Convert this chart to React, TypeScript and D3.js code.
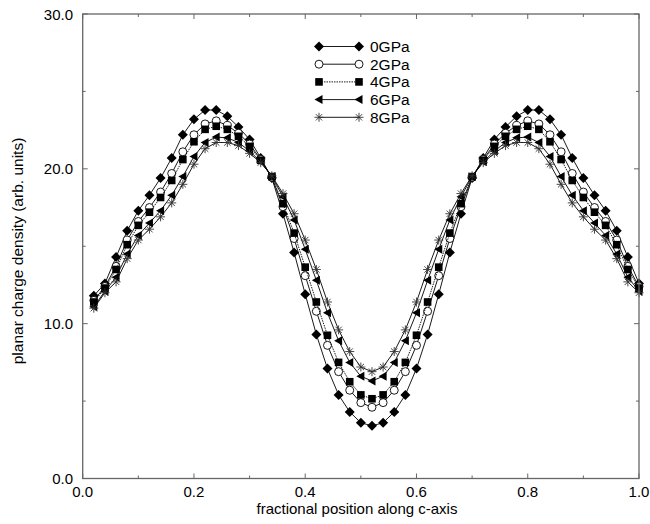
import React from 'react';
import * as d3 from 'd3';

// fractional positions along c-axis
const positions = [
  0.02, 0.04, 0.06, 0.08, 0.1, 0.12, 0.14, 0.16, 0.18, 0.2,
  0.22, 0.24, 0.26, 0.28, 0.3, 0.32, 0.34, 0.36, 0.38, 0.4,
  0.42, 0.44, 0.46, 0.48, 0.5, 0.52, 0.54, 0.56, 0.58, 0.6,
  0.62, 0.64, 0.66, 0.68, 0.7, 0.72, 0.74, 0.76, 0.78, 0.8,
  0.82, 0.84, 0.86, 0.88, 0.9, 0.92, 0.94, 0.96, 0.98, 1.0,
];

const gpa0 = [
  11.8, 12.6, 14.3, 16.0, 17.3, 18.3, 19.4, 20.7, 22.2, 23.2,
  23.8, 23.8, 23.4, 22.7, 21.9, 20.7, 19.4, 17.1, 14.6, 11.9,
  9.3, 7.1, 5.4, 4.3, 3.6, 3.4, 3.6, 4.3, 5.4, 7.1,
  9.3, 11.9, 14.6, 17.1, 19.4, 20.7, 21.9, 22.7, 23.4, 23.8,
  23.8, 23.2, 22.2, 20.7, 19.4, 18.3, 17.3, 16.0, 14.3, 12.6,
];
const gpa2 = [
  11.5, 12.4, 13.7, 15.4, 16.6, 17.5, 18.5, 19.7, 21.1, 22.2,
  22.9, 23.1, 22.8, 22.3, 21.6, 20.6, 19.45, 17.55, 15.5, 13.1,
  10.8, 8.6, 6.9, 5.7, 4.9, 4.6, 4.9, 5.7, 6.9, 8.6,
  10.8, 13.1, 15.5, 17.55, 19.45, 20.6, 21.6, 22.3, 22.8, 23.1,
  22.9, 22.2, 21.1, 19.7, 18.5, 17.5, 16.6, 15.4, 13.7, 12.4,
];
const gpa4 = [
  11.4, 12.3, 13.5, 15.1, 16.35, 17.2, 18.15, 19.25, 20.6, 21.75,
  22.55, 22.75, 22.55, 22.1, 21.45, 20.55, 19.5, 17.75, 15.85, 13.65,
  11.4, 9.25, 7.5, 6.25, 5.4, 5.15, 5.4, 6.25, 7.5, 9.25,
  11.4, 13.65, 15.85, 17.75, 19.5, 20.55, 21.45, 22.1, 22.55, 22.75,
  22.55, 21.75, 20.6, 19.25, 18.15, 17.2, 16.35, 15.1, 13.5, 12.3,
];
const gpa6 = [
  11.1, 12.1, 13.0, 14.5, 15.7, 16.5, 17.3, 18.3, 19.5, 20.8,
  21.7, 22.05, 22.0, 21.7, 21.15, 20.45, 19.5, 18.2, 16.7, 14.8,
  12.8, 10.7, 8.9, 7.5, 6.6, 6.3, 6.6, 7.5, 8.9, 10.7,
  12.8, 14.8, 16.7, 18.2, 19.5, 20.45, 21.15, 21.7, 22.0, 22.05,
  21.7, 20.8, 19.5, 18.3, 17.3, 16.5, 15.7, 14.5, 13.0, 12.1,
];
const gpa8 = [
  11.0, 12.0, 12.7, 14.2, 15.4, 16.1, 16.9, 17.8, 19.0, 20.3,
  21.3, 21.7, 21.7, 21.5, 21.0, 20.4, 19.55, 18.4, 17.1, 15.4,
  13.5, 11.4, 9.6, 8.2, 7.2, 6.9, 7.2, 8.2, 9.6, 11.4,
  13.5, 15.4, 17.1, 18.4, 19.55, 20.4, 21.0, 21.5, 21.7, 21.7,
  21.3, 20.3, 19.0, 17.8, 16.9, 16.1, 15.4, 14.2, 12.7, 12.0,
];

const seriesNames = ['0GPa', '2GPa', '4GPa', '6GPa', '8GPa'];
const seriesValues = [gpa0, gpa2, gpa4, gpa6, gpa8];
const markerKinds = ['diamond', 'circle', 'square', 'triangle', 'star'];

const xTicks = [0, 0.2, 0.4, 0.6, 0.8, 1.0];
const xMinor = [0.1, 0.3, 0.5, 0.7, 0.9];
const yTicks = [0, 10, 20, 30];
const yMinor = [5, 15, 25];

const W = 650;
const H = 524;
const left = 82.7;
const right = 639;
const top = 14;
const bottom = 478.5;
const font = 'Liberation Sans, Arial, Helvetica, sans-serif';
const axisColor = '#666';

const Marker = ({ kind, x, y }: { kind: string; x: number; y: number }) => {
  if (kind === 'diamond') {
    const r = 5;
    return <path d={`M${x},${y - r}L${x + r},${y}L${x},${y + r}L${x - r},${y}Z`} fill="#000" />;
  }
  if (kind === 'circle') {
    return <circle cx={x} cy={y} r={4} fill="#fff" stroke="#000" strokeWidth={0.9} />;
  }
  if (kind === 'square') {
    return <rect x={x - 3.8} y={y - 3.8} width={7.6} height={7.6} fill="#000" />;
  }
  if (kind === 'triangle') {
    return <path d={`M${x - 4.5},${y}L${x + 3.5},${y - 4.5}L${x + 3.5},${y + 4.5}Z`} fill="#000" />;
  }
  // asterisk
  const r = 4.5;
  const lines = [0, 45, 90, 135].map((a) => {
    const t = (a * Math.PI) / 180;
    return `M${x - r * Math.cos(t)},${y - r * Math.sin(t)}L${x + r * Math.cos(t)},${y + r * Math.sin(t)}`;
  });
  return <path d={lines.join('')} stroke="#333" strokeWidth={0.9} fill="none" />;
};

const App = () => {
  const x = d3.scaleLinear().domain([0, 1]).range([left, right]);
  const y = d3.scaleLinear().domain([0, 30]).range([bottom, top]);

  const line = d3
    .line<number>()
    .x((_, i) => x(positions[i]))
    .y((d) => y(d));

  const legendX = 319;
  const legendY = 46.5;
  const legendStep = 17.7;

  return (
    <svg width={W} height={H} style={{ position: 'absolute', left: 0, top: 0, background: '#fff' }}>
      <rect x={0} y={0} width={W} height={H} fill="#fff" />

      {/* series */}
      {seriesValues.map((vals, s) => (
        <g key={seriesNames[s]}>
          <path
            d={line(vals) || ''}
            fill="none"
            stroke="#000"
            strokeWidth={0.9}
            strokeDasharray={s === 2 ? '1.5,1' : undefined}
          />
          {vals.map((v, i) => (
            <Marker key={i} kind={markerKinds[s]} x={x(positions[i])} y={y(v)} />
          ))}
        </g>
      ))}

      {/* frame */}
      <rect x={left} y={top} width={right - left} height={bottom - top} fill="none" stroke={axisColor} strokeWidth={1.3} />

      {/* x ticks */}
      {xTicks.map((t) => (
        <g key={'xt' + t}>
          <line x1={x(t)} x2={x(t)} y1={bottom} y2={bottom - 5} stroke={axisColor} />
          <line x1={x(t)} x2={x(t)} y1={top} y2={top + 5} stroke={axisColor} />
          <text x={x(t)} y={496.5} textAnchor="middle" fontFamily={font} fontSize={15} fill="#000">
            {t.toFixed(1)}
          </text>
        </g>
      ))}
      {xMinor.map((t) => (
        <g key={'xm' + t}>
          <line x1={x(t)} x2={x(t)} y1={bottom} y2={bottom - 3} stroke={axisColor} />
          <line x1={x(t)} x2={x(t)} y1={top} y2={top + 3} stroke={axisColor} />
        </g>
      ))}

      {/* y ticks */}
      {yTicks.map((t) => (
        <g key={'yt' + t}>
          <line x1={left} x2={left + 5} y1={y(t)} y2={y(t)} stroke={axisColor} />
          <line x1={right} x2={right - 5} y1={y(t)} y2={y(t)} stroke={axisColor} />
          <text x={73} y={y(t) + 5.5} textAnchor="end" fontFamily={font} fontSize={15} fill="#000">
            {t.toFixed(1)}
          </text>
        </g>
      ))}
      {yMinor.map((t) => (
        <g key={'ym' + t}>
          <line x1={left} x2={left + 3} y1={y(t)} y2={y(t)} stroke={axisColor} />
          <line x1={right} x2={right - 3} y1={y(t)} y2={y(t)} stroke={axisColor} />
        </g>
      ))}

      {/* axis titles */}
      <text x={357} y={514} textAnchor="middle" fontFamily={font} fontSize={15} fill="#000">
        fractional position along c-axis
      </text>
      <text
        transform={`translate(23,${251}) rotate(-90)`}
        textAnchor="middle"
        fontFamily={font}
        fontSize={15.5}
        fill="#000"
      >
        planar charge density (arb. units)
      </text>

      {/* legend */}
      {seriesNames.map((name, s) => {
        const ly = legendY + s * legendStep;
        return (
          <g key={'lg' + name}>
            <line
              x1={legendX}
              x2={legendX + 40}
              y1={ly}
              y2={ly}
              stroke="#000"
              strokeWidth={0.9}
              strokeDasharray={s === 2 ? '1.5,1' : undefined}
            />
            <Marker kind={markerKinds[s]} x={legendX} y={ly} />
            <Marker kind={markerKinds[s]} x={legendX + 40} y={ly} />
            <text x={legendX + 51} y={ly + 5.5} fontFamily={font} fontSize={15.5} fill="#000">
              {name}
            </text>
          </g>
        );
      })}
    </svg>
  );
};

export default App;
